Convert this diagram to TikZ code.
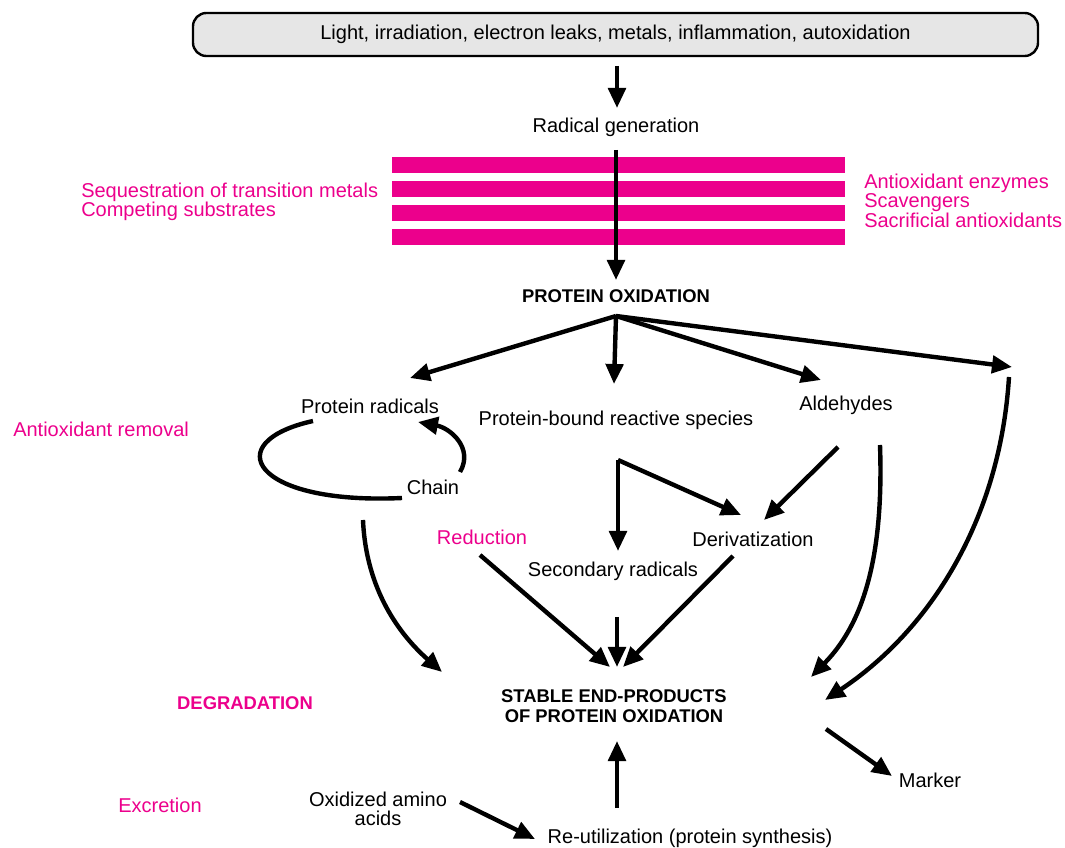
\documentclass[tikz,border=0pt]{standalone}
\usepackage{fontspec}
\setmainfont{Liberation Sans}
\usetikzlibrary{arrows.meta}
\definecolor{mag}{HTML}{EC008C}
\definecolor{boxgray}{HTML}{E6E6E6}
\tikzset{
  txt/.style={inner sep=0pt, font=\fontsize{15}{17}\selectfont},
  mtxt/.style={txt, text=mag},
  btxt/.style={inner sep=0pt, font=\fontsize{13.8}{15}\selectfont\bfseries, align=center},
  arr/.style={line width=3.3pt, -{Triangle[length=15pt,width=13pt]}},
  curv/.style={line width=3.3pt},
  bar/.style={fill=mag, draw=none}
}
\begin{document}
\begin{tikzpicture}[x=0.75pt,y=-0.75pt]
\useasboundingbox (0,0) rectangle (1065,848);
% top box
\node[draw, line width=1.8pt, fill=boxgray, rounded corners=10pt, minimum width=845*0.75pt, minimum height=43*0.75pt, inner sep=0pt, font=\fontsize{15}{17}\selectfont] (src) at (615.5,34.5) {Light, irradiation, electron leaks, metals, inflammation, autoxidation};
\node[txt] (rg) at (616,127) {Radical generation};
% bars
\foreach \y in {157,181,205,229} { \fill[mag] (392,\y) rectangle (845,\y+16); }
\node[mtxt, anchor=west, align=left, font=\fontsize{15}{14.2}\selectfont] (seq) at (81,201.5) {Sequestration of transition metals\\Competing substrates};
\node[mtxt, anchor=west, align=left, font=\fontsize{15}{13.5}\selectfont] (enz) at (864,201) {Antioxidant enzymes\\Scavengers\\Sacrificial antioxidants};
\node[btxt] (po) at (616,296) {PROTEIN OXIDATION};
\node[txt] (pr) at (370,406) {Protein radicals};
\node[txt] (pb) at (616,420) {Protein-bound reactive species};
\node[txt] (ald) at (846,405) {Aldehydes};
\node[mtxt, anchor=west] (aor) at (13,429) {Antioxidant removal};
\node[txt] (chain) at (433,487) {Chain};
\node[mtxt] (red) at (482,537) {Reduction};
\node[txt] (der) at (753,539) {Derivatization};
\node[txt] (sec) at (613,571) {Secondary radicals};
\node[btxt] (sep) at (614,706) {STABLE END-PRODUCTS\\OF PROTEIN OXIDATION};
\node[font=\fontsize{13.8}{15}\selectfont\bfseries, text=mag, inner sep=0pt] (deg) at (245,703) {DEGRADATION};
\node[mtxt] (exc) at (160,805) {Excretion};
\node[txt, align=center, font=\fontsize{15}{14}\selectfont] (oaa) at (378,809) {Oxidized amino\\acids};
\node[txt] (reu) at (690,838) {Re-utilization (protein synthesis)};
\node[txt] (mk) at (930,780) {Marker};
% coordinates
\coordinate (a1s) at (617,66); \coordinate (a1e) at (617,108);
\coordinate (a2s) at (616,150); \coordinate (a2e) at (616,280);
\coordinate (hub) at (616,316);
\coordinate (tpr) at (410,378);
\coordinate (tpb) at (614,384);
\coordinate (tald) at (821,380);
\coordinate (tfar) at (1012,367);
\coordinate (fars) at (1009,377); \coordinate (fare) at (825,700);
\coordinate (c1s) at (313,421); \coordinate (c1e) at (402,498);
\coordinate (c2s) at (460,472); \coordinate (c2e) at (418,422);
\coordinate (prs) at (363,520); \coordinate (pre) at (442,672);
\coordinate (corner) at (618,460); \coordinate (tsec) at (618,551); \coordinate (tder) at (741,515);
\coordinate (alds) at (838,447); \coordinate (alde) at (764,520);
\coordinate (ald2s) at (880,445); \coordinate (ald2e) at (811,677);
\coordinate (reds) at (480,555); \coordinate (rede) at (610,667);
\coordinate (secs) at (617,617); \coordinate (sece) at (617,667);
\coordinate (ders) at (733,556); \coordinate (dere) at (623,667);
\coordinate (ups) at (617,808); \coordinate (upe) at (617,741);
\coordinate (oas) at (460,802); \coordinate (oae) at (535,839);
\coordinate (mks) at (826,729); \coordinate (mke) at (892,776);
% arrows
\draw[arr] (a1s) -- (a1e);
\draw[arr] (a2s) -- (a2e);
\draw[arr] (hub) -- (tpr);
\draw[arr] (hub) -- (tpb);
\draw[arr] (hub) -- (tald);
\draw[arr] (hub) -- (tfar);
\draw[arr] (fars) .. controls (1000,520) and (930,630) .. (fare);
\draw[curv] (c1s) .. controls (218,442) and (252,505) .. (c1e);
\draw[arr] (c2s) .. controls (474,448) and (450,428) .. (c2e);
\draw[arr] (prs) .. controls (366,590) and (400,635) .. (pre);
\draw[arr] (corner) -- (tsec);
\draw[arr] (corner) -- (tder);
\draw[arr] (alds) -- (alde);
\draw[arr] (ald2s) .. controls (884,560) and (862,625) .. (ald2e);
\draw[arr] (reds) -- (rede);
\draw[arr] (secs) -- (sece);
\draw[arr] (ders) -- (dere);
\draw[arr] (ups) -- (upe);
\draw[arr] (oas) -- (oae);
\draw[arr] (mks) -- (mke);
\end{tikzpicture}
\end{document}
